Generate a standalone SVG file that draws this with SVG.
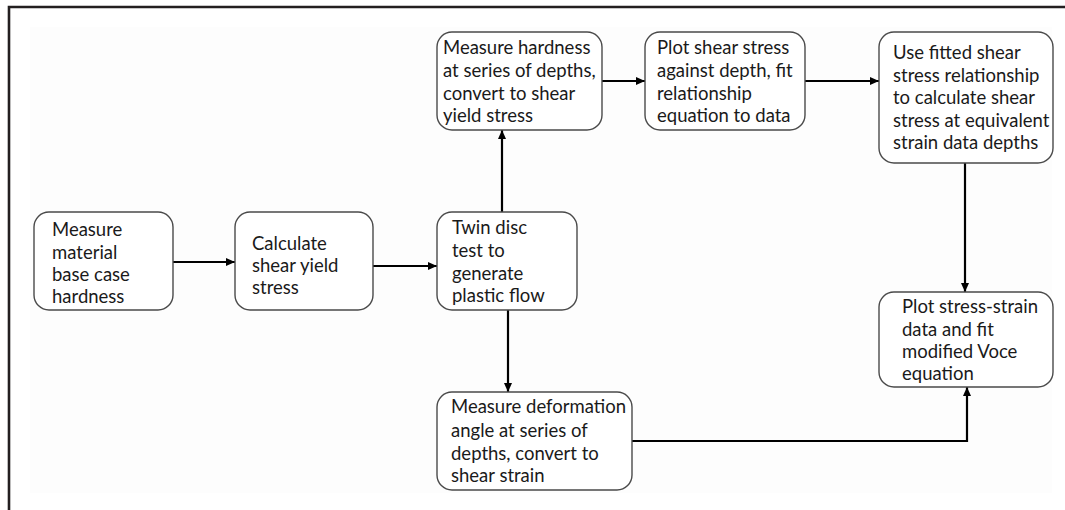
<svg xmlns="http://www.w3.org/2000/svg" width="1065" height="510" viewBox="0 0 1065 510">
<defs>
<style>
.box{fill:#ffffff;stroke:#4a4a4a;stroke-width:1.4}
.t{font-family:Lato,"Open Sans","Liberation Sans",sans-serif;font-size:18.5px;fill:#1a1a1a}
.c{fill:none;stroke:#000;stroke-width:2.2}
</style>
<marker id="ah" markerUnits="userSpaceOnUse" markerWidth="9" markerHeight="9" viewBox="0 0 9 9" refX="9" refY="4.5" orient="auto">
<path d="M0,0.5 L9,4.5 L0,8.5 Z" fill="#000"/>
</marker>
</defs>
<rect x="0" y="0" width="1065" height="510" fill="#ffffff"/>
<rect x="30" y="27" width="1022" height="466" fill="#fdfdfd"/>
<path d="M9,510 V7 H1065" fill="none" stroke="#231f20" stroke-width="2.6"/>
<g id="connectors">
<path class="c" d="M173,262 H235" marker-end="url(#ah)"/>
<path class="c" d="M373,266 H437" marker-end="url(#ah)"/>
<path class="c" d="M502,212 V130" marker-end="url(#ah)"/>
<path class="c" d="M602,81 H645" marker-end="url(#ah)"/>
<path class="c" d="M805,81 H879" marker-end="url(#ah)"/>
<path class="c" d="M965,163 V292" marker-end="url(#ah)"/>
<path class="c" d="M508,310 V392" marker-end="url(#ah)"/>
<path class="c" d="M632,441 H967 V387" marker-end="url(#ah)"/>
</g>
<g id="n1">
<rect class="box" x="34" y="212" width="139" height="98" rx="15"/>
<text class="t" x="52" y="236">Measure</text>
<text class="t" x="52" y="259">material</text>
<text class="t" x="52" y="281">base case</text>
<text class="t" x="52" y="303">hardness</text>
</g>
<g id="n2">
<rect class="box" x="235" y="212" width="138" height="98" rx="15"/>
<text class="t" x="252" y="250">Calculate</text>
<text class="t" x="252" y="272">shear yield</text>
<text class="t" x="252" y="294">stress</text>
</g>
<g id="n3">
<rect class="box" x="437" y="212" width="140" height="98" rx="15"/>
<text class="t" x="452" y="234">Twin disc</text>
<text class="t" x="452" y="257">test to</text>
<text class="t" x="452" y="280">generate</text>
<text class="t" x="452" y="302">plastic flow</text>
</g>
<g id="n4">
<rect class="box" x="437" y="32" width="165" height="98" rx="15"/>
<text class="t" x="443" y="54">Measure hardness</text>
<text class="t" x="443" y="77">at series of depths,</text>
<text class="t" x="443" y="100">convert to shear</text>
<text class="t" x="443" y="122">yield stress</text>
</g>
<g id="n5">
<rect class="box" x="645" y="32" width="160" height="98" rx="15"/>
<text class="t" x="657" y="54">Plot shear stress</text>
<text class="t" x="657" y="77">against depth, fit</text>
<text class="t" x="657" y="100">relationship</text>
<text class="t" x="657" y="122">equation to data</text>
</g>
<g id="n6">
<rect class="box" x="879" y="32" width="174" height="131" rx="15"/>
<text class="t" x="893" y="59">Use fitted shear</text>
<text class="t" x="893" y="82">stress relationship</text>
<text class="t" x="893" y="104">to calculate shear</text>
<text class="t" x="893" y="127">stress at equivalent</text>
<text class="t" x="893" y="149">strain data depths</text>
</g>
<g id="n7">
<rect class="box" x="879" y="292" width="174" height="95" rx="15"/>
<text class="t" x="902" y="313">Plot stress-strain</text>
<text class="t" x="902" y="336">data and fit</text>
<text class="t" x="902" y="358">modified Voce</text>
<text class="t" x="902" y="380">equation</text>
</g>
<g id="n8">
<rect class="box" x="437" y="392" width="195" height="98" rx="15"/>
<text class="t" x="451" y="413">Measure deformation</text>
<text class="t" x="451" y="437">angle at series of</text>
<text class="t" x="451" y="460">depths, convert to</text>
<text class="t" x="451" y="482">shear strain</text>
</g>
</svg>
